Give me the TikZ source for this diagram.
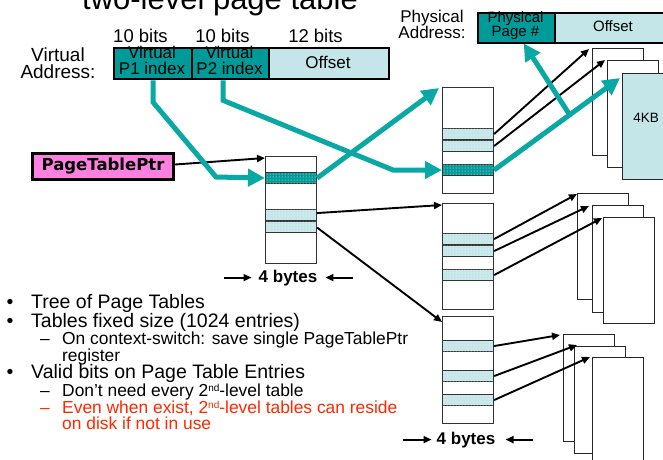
\documentclass[tikz,border=0pt]{standalone}
\usepackage{fontspec}
\setmainfont{Liberation Sans}
\newfontfamily\ptrfont{DejaVu Sans}
\usetikzlibrary{arrows.meta,patterns,calc}
\definecolor{tealA}{RGB}{10,168,164}
\definecolor{tealD}{RGB}{0,155,152}
\definecolor{tealL}{RGB}{196,230,232}
\definecolor{pinkP}{RGB}{255,128,224}
\definecolor{redT}{RGB}{255,40,0}
\newcommand{\supnd}{\raisebox{5pt}{\fontsize{10}{10}\selectfont nd}}
\begin{document}
\begin{tikzpicture}[x=1pt,y=-1pt,
  txt/.style={inner sep=0pt, anchor=base},
  tbl/.style={draw=black!80, line width=1.1pt, fill=white, minimum width=51pt, inner sep=0pt, anchor=north west},
  rowL/.style={tbl, minimum height=11pt, fill=tealL, postaction={pattern=dots, pattern color=white}},
  rowD/.style={tbl, minimum height=11pt, fill=tealD, postaction={pattern=dots, pattern color=white}},
  pg/.style={draw=black!85, line width=0.9pt, fill=white, minimum width=51pt, minimum height=107pt, inner sep=0pt, anchor=north west},
  fld/.style={draw=black, line width=2.4pt, inner sep=0pt, anchor=north west},
  tarr/.style={draw=tealA, line width=5pt, -{Triangle[length=17pt,width=17pt]}},
  barr/.style={draw=black, line width=1.9pt, -{Triangle[length=8pt,width=7pt]}},
  l1/.style={txt, anchor=base west, font=\fontsize{19.5}{19.5}\selectfont},
  l2/.style={txt, anchor=base west, font=\fontsize{17.4}{17}\selectfont},
  bytes/.style={txt, font=\fontsize{17}{17}\selectfont\bfseries}
]
\useasboundingbox (0,0) rectangle (663,459);

% title (cut off at top)
\node[txt, font=\fontsize{31}{31}\selectfont] (title) at (220,9.5) {two-level page table};

% virtual address (multi-line nodes are placed by the baseline of their last line)
\node[txt, align=center, font=\fontsize{19}{17}\selectfont] (va) at (58,78.5) {Virtual\\Address:};
\node[txt, font=\fontsize{18.5}{18.5}\selectfont] (bits1) at (140.5,42) {10 bits};
\node[txt, font=\fontsize{18.5}{18.5}\selectfont] (bits2) at (222.5,42) {10 bits};
\node[txt, font=\fontsize{18.5}{18.5}\selectfont] (bits3) at (315.5,42) {12 bits};
\node[fld, fill=tealD, minimum width=78pt, minimum height=31pt] (p1idx) at (113,47) {};
\node[fld, fill=tealD, minimum width=77pt, minimum height=31pt] (p2idx) at (191,47) {};
\node[fld, fill=tealL, minimum width=120pt, minimum height=31pt] (voff) at (268,47) {};
\node[txt, align=center, font=\fontsize{17}{16}\selectfont] at (152,74) {Virtual\\P1 index};
\node[txt, align=center, font=\fontsize{17}{16}\selectfont] at (229.5,74) {Virtual\\P2 index};
\node[txt, font=\fontsize{17}{17}\selectfont] at (328,68) {Offset};

% physical address
\node[txt, align=center, font=\fontsize{17}{16}\selectfont] (pa) at (432,38) {Physical\\Address:};
\node[fld, fill=tealD, minimum width=77pt, minimum height=30pt] (ppn) at (477,12) {};
\node[fld, fill=tealL, minimum width=125pt, minimum height=30pt] (poff) at (554,12) {};
\node[txt, align=center, font=\fontsize{15}{13.5}\selectfont] at (515.5,36) {Physical\\Page \#};
\node[txt, font=\fontsize{15}{15}\selectfont] at (613,31) {Offset};

% page table pointer
\node[draw=black, line width=3pt, fill=pinkP, minimum width=141pt, minimum height=26pt, inner sep=0pt, anchor=north west,
      font=\ptrfont\bfseries\fontsize{16.5}{16.5}\selectfont] (ptr) at (31,152) {PageTablePtr};

% top-level table
\node[tbl, minimum height=107pt] (t0) at (265,156) {};
\node[rowD] (t0r1) at (265,172) {};
\node[rowL] (t0r2) at (265,209) {};
\node[rowL] (t0r3) at (265,220.5) {};
\node[bytes] (by0) at (288,282) {4 bytes};

% second-level tables
\node[tbl, minimum height=106pt] (t1) at (442,87) {};
\node[rowL] (t1r1) at (442,128) {};
\node[rowL] (t1r2) at (442,140) {};
\node[rowD] (t1r3) at (442,164) {};

\node[tbl, minimum height=106pt] (t2) at (442,203) {};
\node[rowL] (t2r1) at (442,233) {};
\node[rowL] (t2r2) at (442,245) {};
\node[rowL] (t2r3) at (442,269) {};

\node[tbl, minimum height=107pt] (t3) at (442,316) {};
\node[rowL] (t3r1) at (442,340) {};
\node[rowL] (t3r2) at (442,370) {};
\node[rowL] (t3r3) at (442,394) {};
\node[bytes] (by1) at (466,444) {4 bytes};

% pages
\node[pg] (p1a) at (592,48) {};
\node[pg] (p1b) at (607,60) {};
\node[pg, fill=tealL, minimum width=56pt, minimum height=106pt] (p1c) at (622,73) {};
\node[txt, font=\fontsize{13.5}{13.5}\selectfont] at (646,122) {4KB};

\node[pg, minimum height=106pt] (p2a) at (577,193) {};
\node[pg] (p2b) at (592,205) {};
\node[pg, minimum height=106pt] (p2c) at (603,217) {};

\node[pg] (p3a) at (563,334) {};
\node[pg] (p3b) at (574,346) {};
\node[pg, minimum height=115pt] (p3c) at (592,357) {};

% 4 bytes arrows
\draw[barr] ([xshift=-35pt]by0.west) -- ([xshift=-7pt]by0.west);
\draw[barr] ([xshift=36pt]by0.east) -- ([xshift=8pt]by0.east);
\draw[barr] ([xshift=-34pt]by1.west) -- ([xshift=-5pt]by1.west);
\draw[barr] ([xshift=37pt]by1.east) -- ([xshift=10pt]by1.east);

% black connectors
\draw[barr] ([yshift=2pt]ptr.east) -- ([yshift=-2pt]t0.north west);
\draw[barr] ([yshift=2pt]t0r2.east) -- ([yshift=-2pt]t2.north west);
\draw[barr] ([yshift=-1pt]t0r3.east) -- ([yshift=-6pt]t3.north west);
\draw[barr] (t1r1.east) -- ([xshift=-3pt,yshift=-1pt]p1a.north west);
\draw[barr] (t1r2.east) -- ([xshift=-2pt]p1b.north west);
\draw[barr] (t2r1.east) -- ([yshift=-1pt]p2a.north west);
\draw[barr] (t2r2.east) -- ([xshift=-3pt,yshift=-1pt]p2b.north west);
\draw[barr] (t2r3.east) -- ([xshift=-1pt,yshift=-1pt]p2c.north west);
\draw[barr] (t3r1.east) -- ([xshift=-3pt,yshift=-1pt]p3a.north west);
\draw[barr] (t3r2.east) -- ([xshift=3pt,yshift=1pt]p3b.north west);
\draw[barr] (t3r3.east) -- ([xshift=-2pt]p3c.north west);

% teal connectors
\coordinate (bend1) at (216,177);
\coordinate (bend2) at (393,170);
\draw[tarr] (p1idx.south) -- ++(0,22) -- (bend1) -- (t0r1.west);
\draw[tarr] ([xshift=-7.5pt]p2idx.south) -- ++(0,20) -- (bend2) -- (t1r3.west);
\draw[tarr] (t0r1.east) -- ([xshift=-3pt,yshift=-1pt]t1.north west);
\coordinate (ptip) at ([xshift=-2pt,yshift=-5pt]p1c.north west);
\coordinate (split) at ($(t1r3.east)!0.6!(ptip)$);
\draw[tarr] (t1r3.east) -- (ptip);
\draw[tarr] (split) -- ([xshift=7pt,yshift=1pt]ppn.south);

% bullets
\node[l1, anchor=base] at (10,308) {•};
\node[l1] at (31,308) {Tree of Page Tables};
\node[l1, anchor=base] at (10,327) {•};
\node[l1] at (31,327) {Tables fixed size (1024 entries)};
\node[l2] at (40,344) {–};
\node[l2, align=left] at (62,361) {On context-switch: save single PageTablePtr\\register};
\node[l1, anchor=base] at (10,378) {•};
\node[l1] at (31,378) {Valid bits on Page Table Entries};
\node[l2] at (40,396) {–};
\node[l2] at (62,396) {Don’t need every 2\supnd-level table};
\node[l2, text=redT] at (40,413) {–};
\node[l2, text=redT, align=left, font=\fontsize{17.4}{16}\selectfont] at (62,429) {Even when exist, 2\supnd-level tables can reside\\on disk if not in use};
\end{tikzpicture}
\end{document}
